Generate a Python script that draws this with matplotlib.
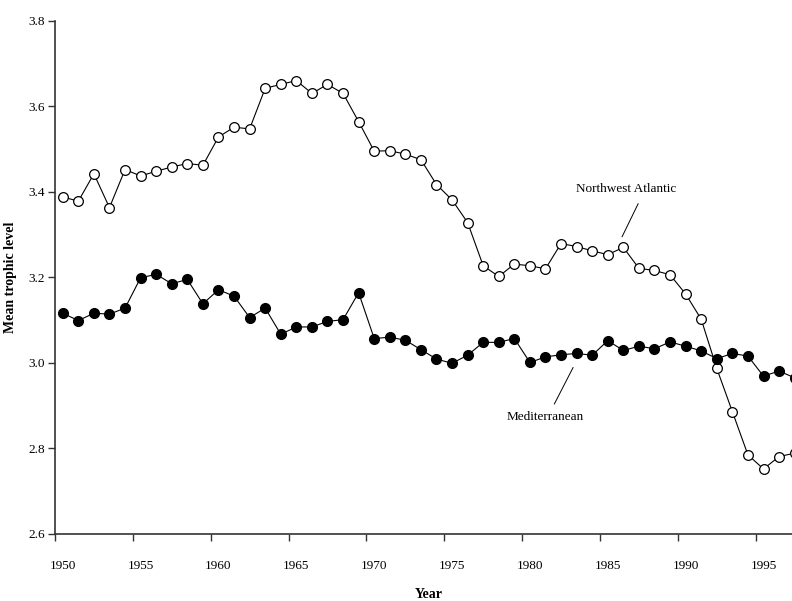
import matplotlib
matplotlib.use("Agg")
import matplotlib.pyplot as plt
import numpy as np

# Mean trophic level of landings, 1950-1997
years = np.arange(1950, 1998)

nw_atlantic = [
    3.388, 3.378, 3.442, 3.363, 3.452, 3.437, 3.448, 3.458, 3.466, 3.462,
    3.528, 3.551, 3.547, 3.642, 3.651, 3.660, 3.630, 3.651, 3.630, 3.564,
    3.495, 3.496, 3.488, 3.475, 3.417, 3.381, 3.328, 3.227, 3.202, 3.231,
    3.227, 3.220, 3.279, 3.272, 3.262, 3.253, 3.270, 3.221, 3.216, 3.206,
    3.161, 3.102, 2.987, 2.886, 2.785, 2.752, 2.781, 2.789,
]

mediterranean = [
    3.116, 3.099, 3.116, 3.114, 3.128, 3.199, 3.207, 3.185, 3.195, 3.138,
    3.171, 3.156, 3.106, 3.128, 3.067, 3.084, 3.084, 3.097, 3.101, 3.164,
    3.057, 3.060, 3.053, 3.031, 3.009, 2.999, 3.018, 3.048, 3.048, 3.057,
    3.001, 3.014, 3.019, 3.022, 3.018, 3.052, 3.029, 3.039, 3.033, 3.049,
    3.039, 3.028, 3.010, 3.022, 3.016, 2.969, 2.981, 2.965,
]

label_years = np.arange(1950, 2000, 5)
y_ticks = [2.6, 2.8, 3.0, 3.2, 3.4, 3.6, 3.8]

plt.rcParams["font.family"] = ["Liberation Serif", "DejaVu Serif"]

fig = plt.figure(figsize=(7.92, 6.01), dpi=100)
ax = fig.add_axes([0.0694, 0.1115, 0.9306, 0.8541])

ax.plot(years, nw_atlantic, color="black", linewidth=0.8, marker="o",
        markersize=7.0, markerfacecolor="white", markeredgecolor="black",
        markeredgewidth=0.9, zorder=3)
ax.plot(years, mediterranean, color="black", linewidth=0.8, marker="o",
        markersize=7.0, markerfacecolor="black", markeredgecolor="black",
        zorder=3)

# leader lines + series names
ax.plot([1986.95, 1985.92], [3.372, 3.295], color="black", linewidth=0.7)
ax.text(1986.17, 3.406, "Northwest Atlantic", ha="center", va="center",
        fontsize=9.5)
ax.plot([1982.77, 1981.57], [2.989, 2.904], color="black", linewidth=0.7)
ax.text(1981.0, 2.874, "Mediterranean", ha="center", va="center",
        fontsize=9.5)

ax.set_xlim(1949.5, 1996.83)
ax.set_ylim(2.6, 3.8)

# category-style axis: ticks between categories, labels on categories
ax.set_xticks(label_years - 0.5)
ax.set_xticklabels([])
ax.set_xticks(label_years, minor=True)
ax.set_xticklabels([str(y) for y in label_years], minor=True, fontsize=9.5)
ax.tick_params(axis="x", which="minor", length=0, pad=19)
ax.tick_params(axis="x", which="major", length=5, width=1.0,
               color="#333333", direction="out")

ax.set_yticks(y_ticks)
ax.set_yticklabels([f"{v:.1f}" for v in y_ticks], fontsize=9.5)
ax.tick_params(axis="y", length=5, width=1.0, color="#333333",
               direction="out", pad=2)

for side in ("top", "right"):
    ax.spines[side].set_visible(False)
for side in ("left", "bottom"):
    ax.spines[side].set_color("#333333")
    ax.spines[side].set_linewidth(1.2)

ax.set_ylabel("Mean trophic level", fontsize=10, fontweight="bold")
ax.yaxis.set_label_coords(-0.052, 0.5)
ax.set_xlabel("Year", fontsize=10, fontweight="bold")
ax.xaxis.set_label_coords(0.507, -0.117)
ax.xaxis.label.set_va("center")

fig.savefig("out.png", dpi=100)
